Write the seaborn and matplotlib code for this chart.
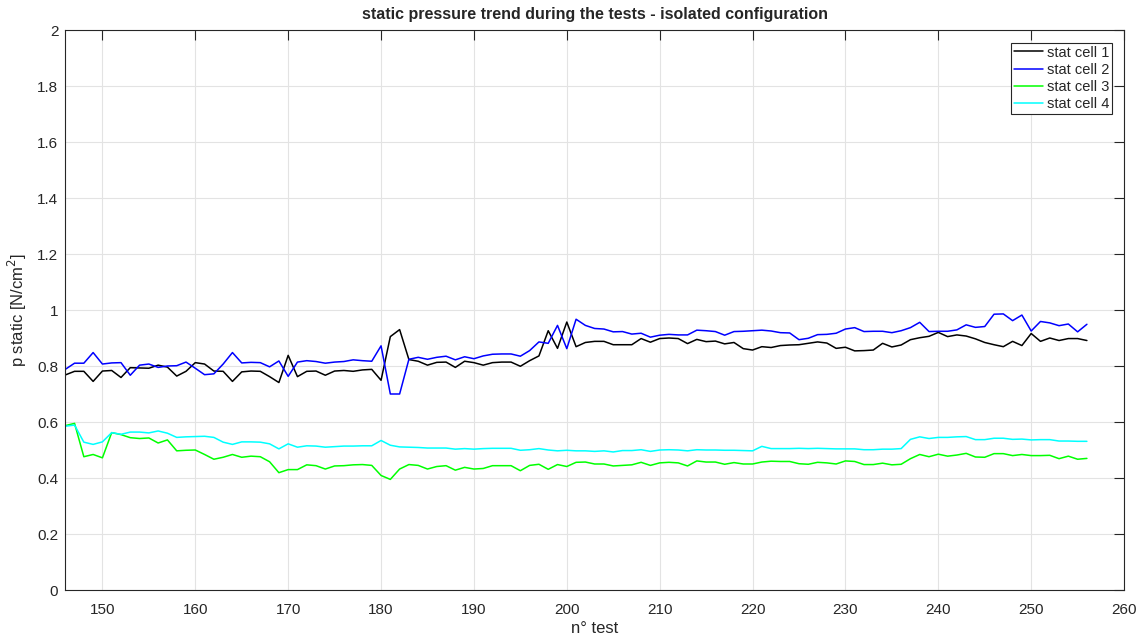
import numpy as np
import pandas as pd
import matplotlib
matplotlib.use("Agg")
import matplotlib.pyplot as plt
import seaborn as sns

# n° test 146 .. 256
test = list(range(146, 257))

stat_cell_1 = [
    0.769, 0.782, 0.782, 0.746, 0.783, 0.785, 0.760, 0.795, 0.794, 0.793,
    0.804, 0.797, 0.765, 0.782, 0.813, 0.808, 0.783, 0.782, 0.746, 0.780,
    0.783, 0.782, 0.763, 0.742, 0.839, 0.763, 0.782, 0.783, 0.768, 0.783,
    0.785, 0.782, 0.787, 0.789, 0.750, 0.906, 0.931, 0.824, 0.818, 0.804,
    0.814, 0.815, 0.796, 0.818, 0.813, 0.804, 0.813, 0.815, 0.815, 0.800,
    0.820, 0.837, 0.927, 0.864, 0.958, 0.870, 0.885, 0.889, 0.889, 0.877,
    0.877, 0.877, 0.899, 0.886, 0.899, 0.901, 0.899, 0.881, 0.896, 0.888,
    0.890, 0.880, 0.885, 0.863, 0.858, 0.870, 0.867, 0.874, 0.876, 0.877,
    0.882, 0.887, 0.883, 0.864, 0.868, 0.855, 0.856, 0.858, 0.882, 0.869,
    0.876, 0.895, 0.902, 0.907, 0.921, 0.906, 0.912, 0.908, 0.898, 0.885,
    0.877, 0.870, 0.889, 0.874, 0.917, 0.889, 0.901, 0.892, 0.899, 0.899,
    0.892,
]
stat_cell_2 = [
    0.789, 0.811, 0.811, 0.849, 0.808, 0.812, 0.813, 0.768, 0.804, 0.808,
    0.796, 0.801, 0.802, 0.815, 0.793, 0.770, 0.773, 0.808, 0.849, 0.812,
    0.814, 0.813, 0.798, 0.819, 0.764, 0.815, 0.820, 0.817, 0.811, 0.815,
    0.817, 0.823, 0.820, 0.818, 0.873, 0.701, 0.701, 0.825, 0.832, 0.825,
    0.832, 0.836, 0.823, 0.834, 0.827, 0.837, 0.843, 0.844, 0.844, 0.836,
    0.856, 0.887, 0.882, 0.946, 0.863, 0.968, 0.946, 0.935, 0.933, 0.923,
    0.924, 0.915, 0.918, 0.904, 0.911, 0.914, 0.912, 0.912, 0.929, 0.927,
    0.924, 0.911, 0.924, 0.925, 0.927, 0.929, 0.926, 0.920, 0.919, 0.895,
    0.900, 0.913, 0.914, 0.918, 0.933, 0.938, 0.924, 0.925, 0.925, 0.920,
    0.927, 0.938, 0.957, 0.924, 0.925, 0.925, 0.930, 0.948, 0.939, 0.942,
    0.986, 0.987, 0.963, 0.983, 0.926, 0.960, 0.955, 0.945, 0.951, 0.923,
    0.950,
]
stat_cell_3 = [
    0.588, 0.596, 0.477, 0.485, 0.473, 0.563, 0.556, 0.545, 0.542, 0.544,
    0.526, 0.537, 0.498, 0.500, 0.501, 0.485, 0.468, 0.475, 0.485, 0.475,
    0.479, 0.477, 0.459, 0.420, 0.431, 0.431, 0.448, 0.445, 0.433, 0.444,
    0.445, 0.448, 0.449, 0.446, 0.410, 0.396, 0.433, 0.449, 0.446, 0.433,
    0.442, 0.445, 0.429, 0.439, 0.433, 0.435, 0.445, 0.445, 0.445, 0.427,
    0.446, 0.450, 0.432, 0.449, 0.442, 0.457, 0.458, 0.451, 0.451, 0.444,
    0.446, 0.448, 0.457, 0.446, 0.455, 0.457, 0.455, 0.444, 0.462, 0.458,
    0.458, 0.450, 0.456, 0.451, 0.451, 0.458, 0.461, 0.460, 0.460, 0.452,
    0.450, 0.457, 0.455, 0.451, 0.462, 0.460, 0.449, 0.449, 0.454, 0.448,
    0.450, 0.470, 0.485, 0.477, 0.486, 0.479, 0.483, 0.489, 0.476, 0.475,
    0.488, 0.488, 0.481, 0.485, 0.481, 0.481, 0.482, 0.470, 0.479, 0.468,
    0.471,
]
stat_cell_4 = [
    0.586, 0.590, 0.529, 0.521, 0.530, 0.563, 0.557, 0.565, 0.565, 0.562,
    0.569, 0.561, 0.546, 0.548, 0.549, 0.550, 0.546, 0.529, 0.521, 0.530,
    0.530, 0.529, 0.523, 0.505, 0.523, 0.511, 0.516, 0.515, 0.511, 0.513,
    0.515, 0.515, 0.516, 0.516, 0.535, 0.518, 0.512, 0.511, 0.510, 0.508,
    0.508, 0.508, 0.504, 0.506, 0.504, 0.506, 0.507, 0.507, 0.507, 0.500,
    0.502, 0.506, 0.501, 0.498, 0.500, 0.498, 0.498, 0.496, 0.498, 0.494,
    0.499, 0.499, 0.502, 0.496, 0.501, 0.502, 0.501, 0.498, 0.502, 0.501,
    0.501, 0.500, 0.500, 0.499, 0.498, 0.514, 0.506, 0.506, 0.506, 0.507,
    0.506, 0.507, 0.506, 0.505, 0.505, 0.505, 0.502, 0.502, 0.504, 0.504,
    0.506, 0.539, 0.548, 0.542, 0.546, 0.546, 0.548, 0.549, 0.538, 0.538,
    0.543, 0.543, 0.539, 0.540, 0.537, 0.538, 0.538, 0.533, 0.533, 0.532,
    0.532,
]

series_names = ["stat cell 1", "stat cell 2", "stat cell 3", "stat cell 4"]
couleurs = ["#000000", "#0000ff", "#00ff00", "#00ffff"]

df = pd.DataFrame({
    "test": test * 4,
    "p": stat_cell_1 + stat_cell_2 + stat_cell_3 + stat_cell_4,
    "serie": sum([[n] * len(test) for n in series_names], []),
})

sns.set_style("white")
plt.rcParams["font.family"] = ["Liberation Sans", "DejaVu Sans"]

fig = plt.figure(figsize=(11.47, 6.43), dpi=100)
ax = fig.add_axes([0.0569, 0.082, 0.9231, 0.8709])

sns.lineplot(data=df, x="test", y="p", hue="serie", palette=couleurs,
             linewidth=1.1, ax=ax, legend=True)

ax.set_xlim(146, 260)
ax.set_ylim(0, 2)
ax.set_xticks(np.arange(150, 261, 10))
ax.set_yticks(np.arange(0, 2.01, 0.2))
ax.set_yticklabels(["0", "0.2", "0.4", "0.6", "0.8", "1", "1.2", "1.4", "1.6", "1.8", "2"])

ax.grid(True, color="#e3e3e3", linewidth=0.8)
ax.tick_params(direction="in", length=7, width=0.8, top=True, right=True,
               labelsize=11, colors="#262626")
ax.tick_params(axis="x", pad=9)
ax.tick_params(axis="y", pad=5)
for s in ax.spines.values():
    s.set_color("#262626")
    s.set_linewidth(0.8)

ax.set_xlabel("n° test", fontsize=12, color="#262626", labelpad=3)
ax.set_ylabel("p static [N/cm$^2$]", fontsize=12, color="#262626", labelpad=6)
ax.set_title("static pressure trend during the tests - isolated configuration",
             fontsize=11.5, fontweight="bold", pad=8)

leg = ax.legend(loc="upper right", fontsize=10.5, frameon=True, fancybox=False,
                edgecolor="#262626", framealpha=1, borderpad=0.2,
                labelspacing=0.22, handlelength=2.0, handletextpad=0.3,
                borderaxespad=0, bbox_to_anchor=(0.989, 0.978))
leg.get_frame().set_linewidth(0.8)

fig.savefig("out.png", dpi=100)
